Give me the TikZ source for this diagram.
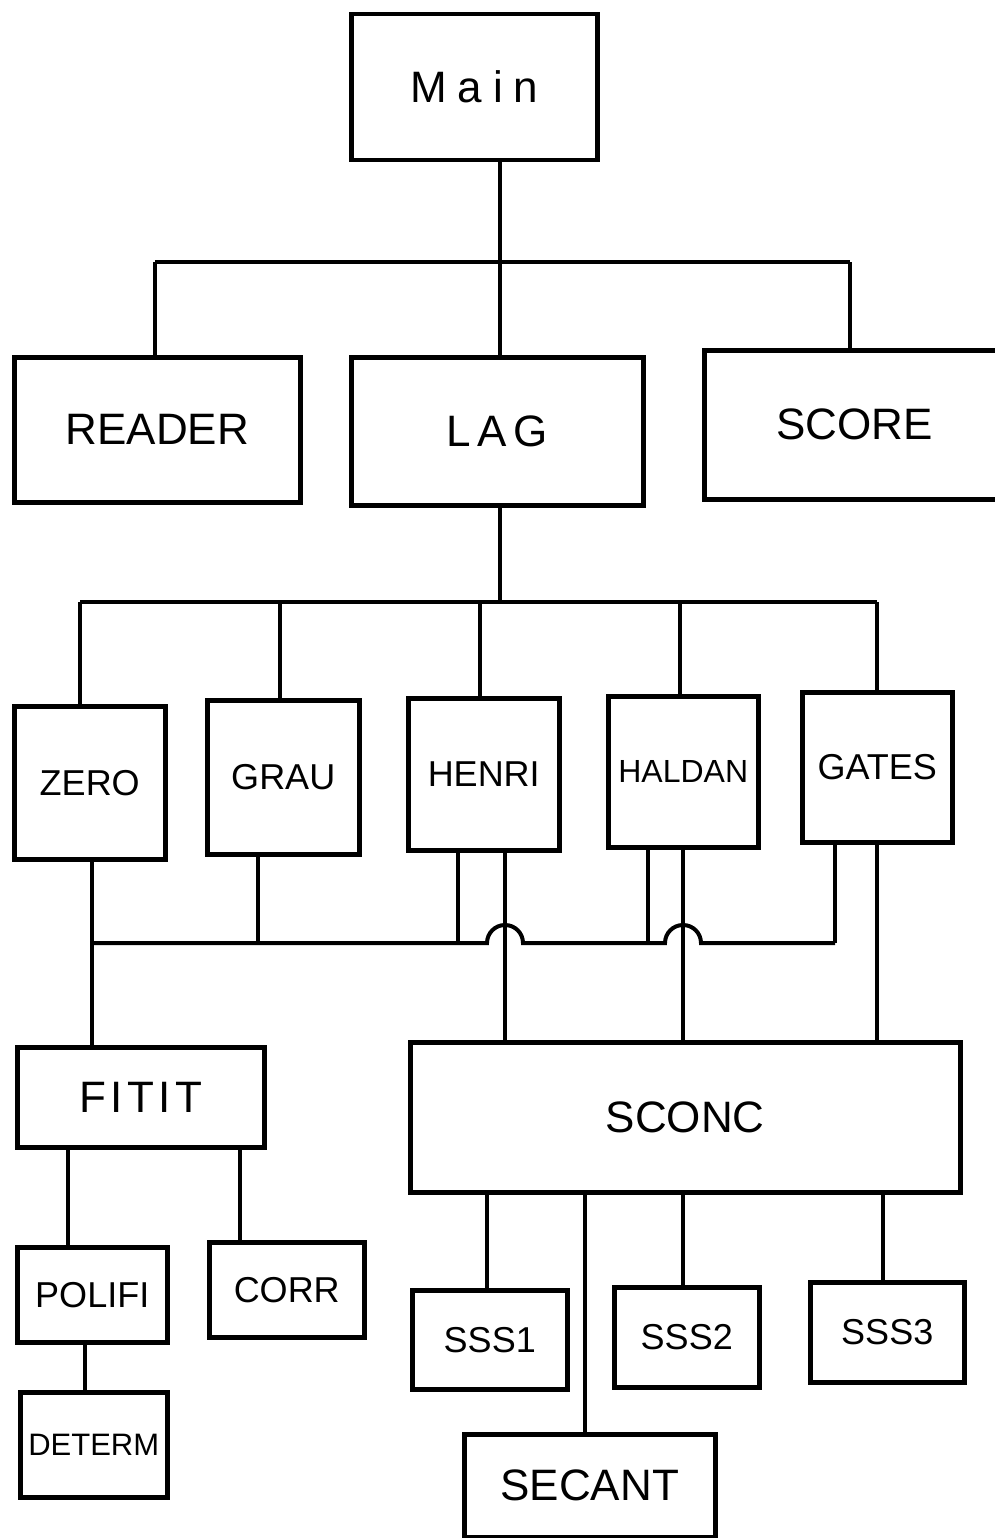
\documentclass[tikz,border=0pt]{standalone}
\usepackage{fontspec}
\setmainfont{Liberation Sans}
\usetikzlibrary{calc}
\begin{document}
\begin{tikzpicture}[x=1pt,y=-1pt,
  box/.style={draw, line width=4.5pt, inner sep=0pt, anchor=north west},
  big/.style={font=\fontsize{44}{44}\selectfont},
  mid/.style={font=\fontsize{36}{36}\selectfont},
  wire/.style={line width=4pt}]
\useasboundingbox (0,0) rectangle (995,1538);
% nodes
\node[box,big,minimum width=246pt,minimum height=146pt] (main) at (349,12) {\addfontfeature{LetterSpace=25}Main};
\node[box,big,minimum width=286pt,minimum height=145pt] (reader) at (12,355) {READER};
\node[box,big,minimum width=292pt,minimum height=148pt] (lag) at (349,355) {\addfontfeature{LetterSpace=15}LAG};
\node[box,big,minimum width=300pt,minimum height=149pt] (score) at (702,348) {SCORE};
\node[box,mid,minimum width=151pt,minimum height=153pt] (zero) at (12,704) {ZERO};
\node[box,mid,minimum width=152pt,minimum height=154pt] (grau) at (205,698) {GRAU};
\node[box,mid,minimum width=151pt,minimum height=152pt] (henri) at (406,696) {HENRI};
\node[box,mid,minimum width=150pt,minimum height=151pt] (haldan) at (606,694) {\fontsize{32}{32}\selectfont HALDAN};
\node[box,mid,minimum width=150pt,minimum height=150pt] (gates) at (800,690) {GATES};
\node[box,big,minimum width=247pt,minimum height=100pt] (fitit) at (15,1045) {\addfontfeature{LetterSpace=10}FITIT};
\node[box,big,minimum width=550pt,minimum height=150pt] (sconc) at (408,1040) {SCONC};
\node[box,mid,minimum width=150pt,minimum height=95pt] (polifi) at (15,1245) {POLIFI};
\node[box,mid,minimum width=155pt,minimum height=95pt] (corr) at (207,1240) {CORR};
\node[box,mid,minimum width=147pt,minimum height=105pt] (determ) at (18,1390) {\fontsize{31}{31}\selectfont DETERM};
\node[box,mid,minimum width=155pt,minimum height=99pt] (sss1) at (410,1288) {SSS1};
\node[box,mid,minimum width=145pt,minimum height=100pt] (sss2) at (612,1285) {SSS2};
\node[box,mid,minimum width=154pt,minimum height=100pt] (sss3) at (808,1280) {SSS3};
\node[box,big,minimum width=251pt,minimum height=103pt] (secant) at (462,1432) {SECANT};
% coordinates
\coordinate (xM) at (500,0);
\coordinate (bus1L) at (155,262);
\coordinate (bus1R) at (850,262);
\coordinate (bus2L) at (80,602);
\coordinate (bus2R) at (877,602);
\coordinate (d2a) at (280,602);
\coordinate (d2b) at (480,602);
\coordinate (d2c) at (680,602);
\coordinate (bus3L) at (92,943);
\coordinate (bus3R) at (835,943);
\coordinate (c258) at (258,943);
\coordinate (c458) at (458,943);
\coordinate (c648) at (648,943);
\coordinate (hop1) at (505,943);
\coordinate (hop2) at (683,943);
\coordinate (c877) at (877,943);
\coordinate (f68) at (68,0);
\coordinate (f240) at (240,0);
\coordinate (p85) at (85,0);
\coordinate (s487) at (487,0);
\coordinate (s585) at (585,0);
\coordinate (s683) at (683,0);
\coordinate (s883) at (883,0);
% level 1
\draw[wire] (main.south -| xM) -- (lag.north -| xM);
\draw[wire] (bus1L) -- (bus1R);
\draw[wire] (bus1L) -- (reader.north -| bus1L);
\draw[wire] (bus1R) -- (score.north -| bus1R);
% level 2
\draw[wire] (lag.south -| xM) -- (xM |- bus2L);
\draw[wire] (bus2L) -- (bus2R);
\draw[wire] (bus2L) -- (zero.north -| bus2L);
\draw[wire] (d2a) -- (grau.north -| d2a);
\draw[wire] (d2b) -- (henri.north -| d2b);
\draw[wire] (d2c) -- (haldan.north -| d2c);
\draw[wire] (bus2R) -- (gates.north -| bus2R);
% level 3 bus with hops
\draw[wire] (bus3L) -- ([xshift=-18pt]hop1) arc[start angle=180,end angle=0,radius=18pt]
  -- ([xshift=-18pt]hop2) arc[start angle=180,end angle=0,radius=18pt] -- (bus3R);
\draw[wire] (zero.south -| bus3L) -- (fitit.north -| bus3L);
\draw[wire] (grau.south -| c258) -- (c258);
\draw[wire] (henri.south -| c458) -- (c458);
\draw[wire] (haldan.south -| c648) -- (c648);
\draw[wire] (gates.south -| bus3R) -- (bus3R);
\draw[wire] (henri.south -| hop1) -- (sconc.north -| hop1);
\draw[wire] (haldan.south -| hop2) -- (sconc.north -| hop2);
\draw[wire] (gates.south -| c877) -- (sconc.north -| c877);
% FITIT subtree
\draw[wire] (fitit.south -| f68) -- (polifi.north -| f68);
\draw[wire] (fitit.south -| f240) -- (corr.north -| f240);
\draw[wire] (polifi.south -| p85) -- (determ.north -| p85);
% SCONC subtree
\draw[wire] (sconc.south -| s487) -- (sss1.north -| s487);
\draw[wire] (sconc.south -| s683) -- (sss2.north -| s683);
\draw[wire] (sconc.south -| s883) -- (sss3.north -| s883);
\draw[wire] (sconc.south -| s585) -- (secant.north -| s585);
\end{tikzpicture}
\end{document}
